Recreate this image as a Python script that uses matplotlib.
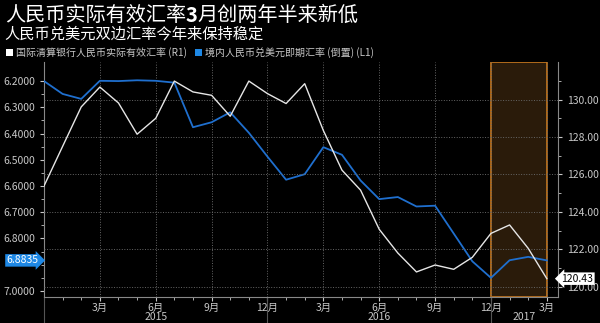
import matplotlib
matplotlib.use("Agg")
import matplotlib.pyplot as plt
from matplotlib.patches import Patch

plt.rcParams['font.family'] = ['Noto Sans CJK SC', 'DejaVu Sans']

# month-end index, 0 = Dec 2014 ... 27 = Mar 2017
months = list(range(28))
usdcny = [6.2000, 6.249, 6.268, 6.199, 6.200, 6.197, 6.199, 6.206,
          6.376, 6.357, 6.319, 6.397, 6.488, 6.576, 6.555, 6.452,
          6.481, 6.579, 6.650, 6.642, 6.678, 6.675, 6.781, 6.887,
          6.950, 6.883, 6.870, 6.8835]
reer = [125.38, 127.5, 129.61, 130.67, 129.82, 128.15, 129.0, 130.99,
        130.41, 130.23, 129.11, 130.99, 130.32, 129.79, 130.85, 128.35,
        126.23, 125.16, 123.07, 121.8, 120.79, 121.16, 120.93, 121.57,
        122.85, 123.30, 122.05, 120.43]

month_ticks = [3, 6, 9, 12, 15, 18, 21, 24, 27]
month_labels = ["3月", "6月", "9月", "12月", "3月", "6月", "9月", "12月", "3月"]
years = ["2015", "2016", "2017"]
year_centers = [6, 18, 25.8]
year_bounds = [0, 12, 24]
left_ticks = [6.2, 6.3, 6.4, 6.5, 6.6, 6.7, 6.8, 7.0]
right_ticks = [120, 122, 124, 126, 128, 130]

BLUE = "#1f6fce"
WHITE = "#e6e6e6"
GRAY = "#c8c8c8"

fig = plt.figure(figsize=(6, 3.23), dpi=100, facecolor="black")
ax = fig.add_axes([0.0733, 0.0805, 0.8567, 0.727], facecolor="black")
ax2 = ax.twinx()

# highlighted period
ax.axvspan(24, 27, facecolor="#2a1b0a", edgecolor="#c8781e", linewidth=1.2, zorder=0)

ax.plot(months, usdcny, color=BLUE, lw=1.3, zorder=3)
ax2.plot(months, reer, color=WHITE, lw=1.0, zorder=3)

ax.set_xlim(0, 27.6)
ax.set_ylim(7.023, 6.128)
ax2.set_ylim(119.45, 132.0)

ax.set_yticks(left_ticks)
ax.set_yticklabels([f"{v:.4f}" for v in left_ticks])
ax.set_yticks([6.25, 6.35, 6.45, 6.55, 6.65, 6.75, 6.85, 6.9, 6.95], minor=True)
ax2.set_yticks(right_ticks)
ax2.set_yticklabels([f"{v:.2f}" for v in right_ticks])
ax2.set_yticks([121, 123, 125, 127, 129, 131], minor=True)

ax.set_xticks(month_ticks)
ax.set_xticklabels(month_labels)
ax.set_xticks(months, minor=True)

for a in (ax, ax2):
    a.tick_params(colors=GRAY, labelsize=7.5, length=3, width=0.8)
    a.tick_params(which="minor", colors=GRAY, length=2, width=0.6)
    for s in a.spines.values():
        s.set_visible(False)
ax.tick_params(axis="x", pad=1)
ax.spines["left"].set_visible(True)
ax.spines["left"].set_color("#888888")
ax.spines["bottom"].set_visible(True)
ax.spines["bottom"].set_color("#888888")
ax2.spines["right"].set_visible(True)
ax2.spines["right"].set_color("#888888")

ax2.grid(axis="y", color="#666666", linestyle=":", linewidth=0.7)
ax.grid(axis="x", color="#666666", linestyle=":", linewidth=0.7)
ax.set_axisbelow(True)
ax2.set_zorder(ax.get_zorder() + 1)
ax2.patch.set_visible(False)

# year labels and separators under the axis
for b in year_bounds:
    ax.axvline(b, ymin=-0.12, ymax=0, color="#555555", lw=0.8, clip_on=False)
for c, y in zip(year_centers, years):
    ax.text(c, -0.085, y, transform=ax.get_xaxis_transform(), ha="center",
            va="center", color=GRAY, fontsize=7.5)

# last-value tags
ax.annotate(f"{usdcny[-1]:.4f}", xy=(0, usdcny[-1]), xycoords=("axes fraction", "data"),
            xytext=(-15.5, 0), textcoords="offset points", ha="center", va="center",
            fontsize=7.5, color="white",
            bbox=dict(boxstyle="rarrow,pad=0.12", fc="#1e88e5", ec="none"), zorder=10,
            annotation_clip=False)
ax2.annotate(f"{reer[-1]:.2f}", xy=(1, reer[-1]), xycoords=("axes fraction", "data"),
             xytext=(14, 0), textcoords="offset points", ha="center", va="center",
             fontsize=7.5, color="black",
             bbox=dict(boxstyle="larrow,pad=0.12", fc="white", ec="none"), zorder=10,
             annotation_clip=False)

# titles
t1 = fig.text(0.008, 0.952, "人民币实际有效汇率", color="white", fontsize=14.5, va="center")
t2 = fig.text(0, 0, "3", color="white", fontsize=14.5, fontweight="bold", va="center")
fig.canvas.draw()
bb = t1.get_window_extent()
t2.set_position((bb.x1 / fig.bbox.width, 0.952))
fig.canvas.draw()
bb2 = t2.get_window_extent()
fig.text(bb2.x1 / fig.bbox.width, 0.952, "月创两年半来新低", color="white",
         fontsize=14.5, va="center")
fig.text(0.008, 0.895, "人民币兑美元双边汇率今年来保持稳定", color="white",
         fontsize=11, va="center")

handles = [Patch(facecolor="white", edgecolor="none"), Patch(facecolor="#1e88e5", edgecolor="none")]
labels = ["国际清算银行人民币实际有效汇率 (R1)", "境内人民币兑美元即期汇率 (倒置) (L1)"]
leg = fig.legend(handles, labels, loc="center left", bbox_to_anchor=(0.0, 0.838), ncol=2,
                 frameon=False, fontsize=7.2, handlelength=0.7, handleheight=0.7,
                 handletextpad=0.3, columnspacing=0.8, borderaxespad=0.2)
for t in leg.get_texts():
    t.set_color(GRAY)

fig.savefig("out.png", dpi=100, facecolor="black")
